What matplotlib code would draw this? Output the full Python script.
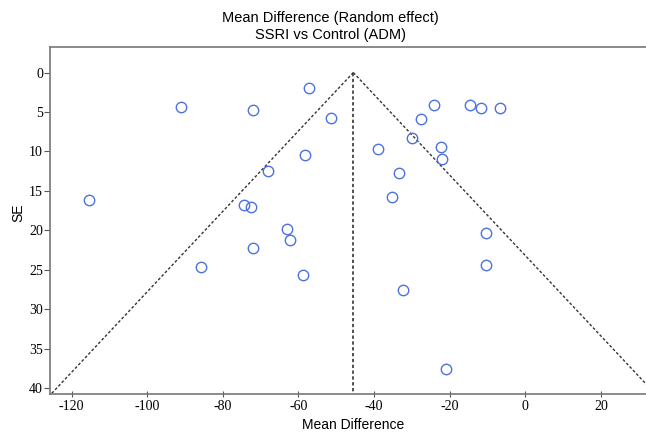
import matplotlib
matplotlib.use("Agg")
import matplotlib.pyplot as plt
import numpy as np

# Study estimates (mean difference) and standard errors
md = [-57.1, -91.1, -71.9, -51.5, -58.4, -68.1, -115.3, -74.4, -72.5, -63.1,
      -62.2, -72.0, -85.7, -58.8,
      -24.2, -14.7, -11.8, -6.7, -27.6, -30.1, -39.0, -22.3, -22.1, -33.3,
      -35.3, -10.5, -10.3, -32.4, -20.9]
se = [2.0, 4.4, 4.8, 5.8, 10.5, 12.5, 16.1, 16.8, 17.1, 19.9,
      21.2, 22.3, 24.6, 25.7,
      4.1, 4.1, 4.5, 4.5, 5.9, 8.3, 9.7, 9.4, 11.0, 12.8,
      15.8, 20.4, 24.4, 27.6, 37.6]
pooled = -45.5
se_max = 41.0
xticks = [-120, -100, -80, -60, -40, -20, 0, 20]
yticks = [0, 5, 10, 15, 20, 25, 30, 35, 40]

fig = plt.figure(figsize=(6.46, 4.34), dpi=100)
ax = fig.add_axes([50/646, 1 - 393.5/434, (646 - 50)/646, (393.5 - 47.3)/434])

# funnel
s = np.array([0, se_max])
ax.plot(pooled - 1.96 * s, s, color="#333333", ls=(0, (2, 1.5)), lw=1.0)
ax.plot(pooled + 1.96 * s, s, color="#333333", ls=(0, (2, 1.5)), lw=1.0)
ax.plot([pooled, pooled], [0, se_max], color="#333333", ls=(0, (2, 1.5)), lw=1.2)

ax.plot(md, se, ls="none", marker="o", ms=7.5, mfc="none", mec="#4D72E0", mew=1.0)

ax.set_xlim(-125.7, 31.9)
ax.set_ylim(40.7, -3.2)
ax.set_xticks(xticks)
ax.set_yticks(yticks)
ax.set_xticklabels([str(t) for t in xticks], family="Liberation Serif", fontsize=10)
ax.set_yticklabels([str(t) for t in yticks], family="Liberation Serif", fontsize=10)
ax.tick_params(axis="x", direction="inout", length=5, width=0.8, color="#555555", pad=2)
ax.tick_params(axis="y", direction="out", length=4, width=0.8, color="#555555", pad=1)
for side in ["left", "bottom", "top"]:
    ax.spines[side].set_color("#777777")
    ax.spines[side].set_linewidth(1.2)
ax.spines["right"].set_visible(False)

ax.set_xlabel("Mean Difference", family="Liberation Sans", fontsize=10, labelpad=4)
ax.xaxis.label.set_x(0.509)
ax.set_ylabel("SE", family="Liberation Sans", fontsize=10)
ax.yaxis.set_label_coords(-0.042, 0.521)
fig.text(0.512, 0.958, "Mean Difference (Random effect)", ha="center", va="center",
         family="Liberation Sans", fontsize=10.5)
fig.text(0.512, 0.919, "SSRI vs Control (ADM)", ha="center", va="center",
         family="Liberation Sans", fontsize=10.5)

fig.savefig("out.png", dpi=100)
